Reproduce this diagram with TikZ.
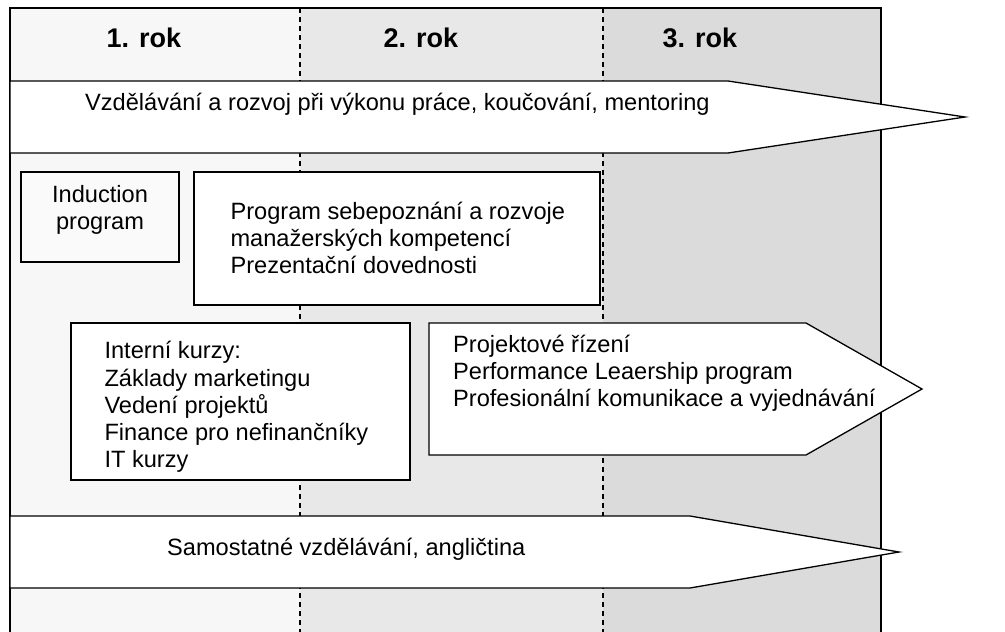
\documentclass[tikz,border=0pt]{standalone}
\usepackage{fontspec}
\setmainfont{Liberation Sans}
\usetikzlibrary{positioning,calc}
\tikzset{
  yearhd/.style={font=\fontsize{27}{30}\selectfont\bfseries, inner sep=0pt},
  divline/.style={line width=1.2pt, dash pattern=on 5pt off 4pt},
  plain/.style={draw=black, line width=1.3pt, fill=white},
  lbl/.style={font=\fontsize{23.6}{27.2}\selectfont, align=left, inner sep=0pt},
  indbox/.style={draw=black, line width=2.3pt, fill=black!2, inner sep=0pt,
                 minimum width=158, minimum height=90},
  listbox/.style={plain, inner sep=0pt},
}
% #1 left, #2 top, #3 bottom, #4 start of tip, #5 tip
\newcommand{\band}[5]{%
  \draw[plain] (#1,#2) -- (#4,#2) -- (#5,{(#2+#3)/2}) -- (#4,#3) -- (#1,#3) -- cycle;}

\begin{document}
\begin{tikzpicture}[x=1pt,y=-1pt]
  \useasboundingbox (0,0) rectangle (1005,632);
  \clip (0,0) rectangle (1005,632);
  % year columns
  \foreach \xa/\xb/\sh/\xt [count=\r] in {10/300/3/144, 300/603/9/421, 603/881/14/700} {
    \fill[black!\sh] (\xa,8) rectangle (\xb,640);
    \node[yearhd] (yr\r) at (\xt,38) {\r. rok};
  }
  \foreach \xd in {300,603} \draw[divline] (\xd,8) -- (\xd,640);
  \draw[line width=1.3pt] (10,640) -- (10,8) -- (881,8) -- (881,640);

  % bands across the years
  \band{10}{81}{153}{728}{965}
  \node[lbl, anchor=west] (prace) at (85,104)
    {Vzdělávání a rozvoj při výkonu práce, koučování, mentoring};
  \band{10}{516}{588}{690}{899}
  \node[lbl, anchor=west] (samo) at (167,549)
    {Samostatné vzdělávání, angličtina};
  \band{429}{323}{455}{806}{922}
  \node[lbl, anchor=west] (projekt) at (453,373)
    {Projektové řízení\\Performance Leaership program\\Profesionální komunikace a vyjednávání};

  % boxes
  \node[indbox] (induct) at (100,217) {};
  \node[lbl, align=center] (inducttxt) at (100,210) {Induction\\program};
  \node[listbox, minimum width=406, minimum height=133] (sebe) at (397,238.5) {};
  \node[lbl, anchor=west] (sebetxt) at ([xshift=37pt]sebe.west |- 0,238)
    {Program sebepoznání a rozvoje\\manažerských kompetencí\\Prezentační dovednosti};
  \node[listbox, minimum width=339, minimum height=157] (kurzy) at (240.5,401.5) {};
  \node[lbl, anchor=west] (kurzytxt) at ([xshift=34pt]kurzy.west |- 0,407)
    {Interní kurzy:\\Základy marketingu\\Vedení projektů\\Finance pro nefinančníky\\IT kurzy};
\end{tikzpicture}
\end{document}
